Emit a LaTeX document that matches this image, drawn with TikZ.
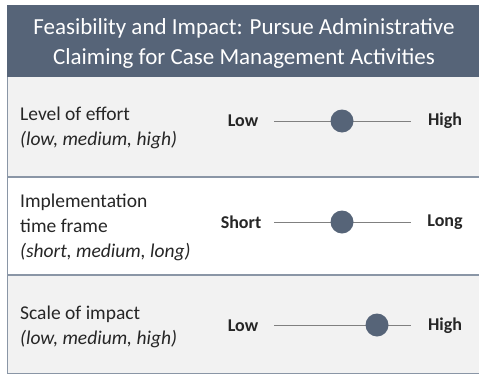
\documentclass[tikz,border=0pt]{standalone}
\usepackage{fontspec}
\setmainfont{Carlito}
\usetikzlibrary{positioning}
\definecolor{slate}{HTML}{566478}
\definecolor{rowgray}{HTML}{F2F2F2}
\definecolor{rule}{HTML}{8A96A6}

\begin{document}
\begin{tikzpicture}[x=1pt,y=-1pt,
            every node/.style={inner sep=0pt,text=black!85},
            headtext/.style={text=white,font=\fontsize{23}{30}\selectfont,align=center},
            rowlabel/.style={font=\fontsize{19.5}{25}\selectfont,align=left,anchor=west},
            endword/.style={font=\fontsize{18}{20}\selectfont\bfseries},
            knob/.style={circle,fill=slate,minimum size=23pt}
        ]
        \useasboundingbox (0,0) rectangle (479,375);

        % header and rows
        \fill[slate] (7,5) rectangle (479,77);
        \fill[rowgray] (7,77) rectangle (479,177);
        \fill[white] (7,177) rectangle (479,275);
        \fill[rowgray] (7,275) rectangle (479,373);
        \draw[rule,line width=1.2pt] (7,177) -- (479,177);
        \draw[rule,line width=1.2pt] (7,275) -- (479,275);
        \draw[rule,line width=1pt] (7,373) -- (479,373);
        \draw[rule,line width=1pt] (7.5,77) -- (7.5,373);

        \node[headtext] (t) at (244,43) {Feasibility and Impact: Pursue Administrative\\Claiming for Case Management Activities};

        \node[rowlabel] (l1) at (20,127.5) {Level of effort\\\textit{(low, medium, high)}};
        \node[rowlabel] (l2) at (20,227.5) {Implementation\\time frame\\\textit{(short, medium, long)}};
        \node[rowlabel] (l3) at (20,327) {Scale of impact\\\textit{(low, medium, high)}};

        \node[endword] (lo1) at (243,121) {Low};
        \node[endword] (hi1) at (445,121) {High};
        \node[endword] (lo2) at (241,222) {Short};
        \node[endword] (hi2) at (445,222) {Long};
        \node[endword] (lo3) at (243,326) {Low};
        \node[endword] (hi3) at (445,326) {High};

        \coordinate (a1) at (274,121);
        \coordinate (b1) at (411,121);
        \coordinate (a2) at (274,222);
        \coordinate (b2) at (411,222);
        \coordinate (a3) at (274,325);
        \coordinate (b3) at (411,325);
        \draw[gray] (a1) -- (b1);
        \draw[gray] (a2) -- (b2);
        \draw[gray] (a3) -- (b3);

        \node[knob] (k1) at (342,121) {};
        \node[knob] (k2) at (342,222) {};
        \node[knob] (k3) at (377,325) {};
    \end{tikzpicture}
\end{document}
